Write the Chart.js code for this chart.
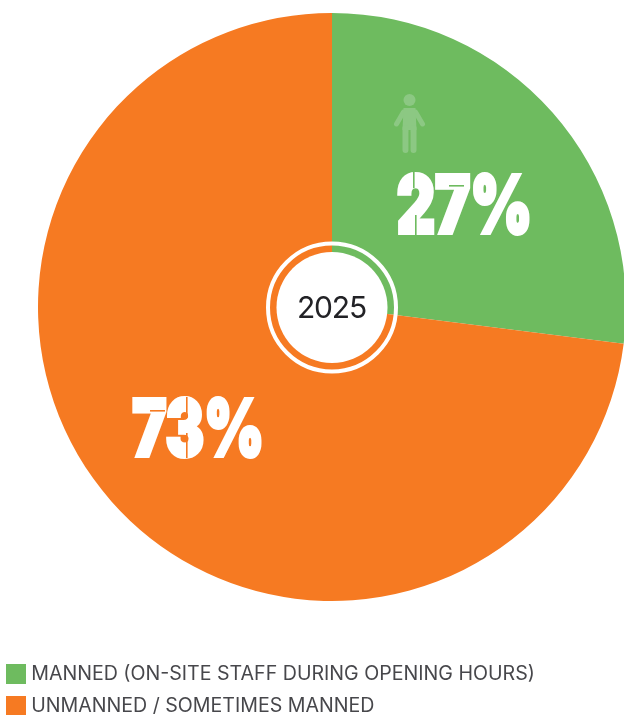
<!DOCTYPE html>
<html>
<head>
<meta charset="utf-8">
<title>Manned and unmanned sites, 2025</title>
<script src="https://cdn.jsdelivr.net/npm/chart.js@4"></script>
<style>
  html, body { margin: 0; padding: 0; background: #fff; overflow: hidden; }
  /* The pie runs past the right edge and the lower legend padding past the bottom edge. */
  canvas { display: block; position: absolute; left: -1px; top: -38px; }
</style>
</head>
<body>
<canvas id="chart" width="666" height="764"></canvas>
<script>
const categories = [
  'MANNED (ON-SITE STAFF DURING OPENING HOURS)',
  'UNMANNED / SOMETIMES MANNED'
];
const shares = [27, 73];
const sliceColors = ['#6EBB5F', '#F67A22'];
const centerYear = '2025';

// Small filled square used as the legend swatch.
function swatch(color) {
  const c = document.createElement('canvas');
  c.width = 20; c.height = 20;
  const g = c.getContext('2d');
  g.fillStyle = color;
  g.fillRect(0, 0, 20, 20);
  return c;
}

// Condensed heavy percentage text with stencil bridges cut through the glyphs.
function stencilText(ctx, text, cx, cy, w, h, bg, cuts) {
  const weight = 5;
  ctx.save();
  ctx.font = '900 100px Inter';
  ctx.textAlign = 'left';
  ctx.textBaseline = 'alphabetic';
  const m = ctx.measureText(text);
  const tw = m.actualBoundingBoxLeft + m.actualBoundingBoxRight + weight;
  const th = m.actualBoundingBoxAscent + m.actualBoundingBoxDescent + weight;
  ctx.translate(cx - w / 2, cy - h / 2);
  ctx.save();
  ctx.scale(w / tw, h / th);
  ctx.fillStyle = ctx.strokeStyle = '#fff';
  ctx.lineWidth = weight;
  ctx.lineJoin = 'miter';
  const ox = m.actualBoundingBoxLeft + weight / 2;
  const oy = m.actualBoundingBoxAscent + weight / 2;
  ctx.fillText(text, ox, oy);
  ctx.strokeText(text, ox, oy);
  ctx.restore();
  ctx.fillStyle = bg;
  cuts.forEach(([x, y, cw, ch]) => ctx.fillRect(x, y, cw, ch));
  ctx.restore();
}

const centerBadge = {
  id: 'centerBadge',
  afterDatasetsDraw(chart) {
    const arc = chart.getDatasetMeta(0).data[0];
    const ctx = chart.ctx, x = arc.x, y = arc.y + 0.5;
    ctx.save();
    ctx.strokeStyle = '#fff';
    ctx.lineWidth = 4;
    ctx.beginPath();
    ctx.arc(x, y, 64, 0, Math.PI * 2);
    ctx.stroke();
    ctx.fillStyle = '#fff';
    ctx.beginPath();
    ctx.arc(x, y, 55.5, 0, Math.PI * 2);
    ctx.fill();
    ctx.fillStyle = '#222226';
    ctx.font = '30px Inter';
    ctx.letterSpacing = '-1.2px';
    ctx.textAlign = 'center';
    ctx.textBaseline = 'middle';
    ctx.fillText(centerYear, x - 0.5, y + 1);
    ctx.restore();
  }
};

const sliceLabels = {
  id: 'sliceLabels',
  afterDatasetsDraw(chart) {
    const ctx = chart.ctx;
    const arc = chart.getDatasetMeta(0).data[0];
    const x = arc.x, y = arc.y;

    // Person pictogram above the manned share
    const px = x + 77.5, py = y - 207;
    ctx.save();
    ctx.fillStyle = ctx.strokeStyle = '#8CC883';
    ctx.beginPath();
    ctx.arc(px, py, 6, 0, Math.PI * 2);
    ctx.fill();
    ctx.lineCap = 'round';
    ctx.lineWidth = 5;
    ctx.beginPath();
    ctx.moveTo(px - 6, py + 12);
    ctx.lineTo(px - 13, py + 24);
    ctx.moveTo(px + 6, py + 12);
    ctx.lineTo(px + 13, py + 24);
    ctx.stroke();
    ctx.beginPath();
    ctx.moveTo(px - 6, py + 8);
    ctx.lineTo(px + 6, py + 8);
    ctx.lineTo(px + 7, py + 30);
    ctx.lineTo(px - 7, py + 30);
    ctx.closePath();
    ctx.fill();
    ctx.lineWidth = 6;
    ctx.beginPath();
    ctx.moveTo(px - 4, py + 28);
    ctx.lineTo(px - 4, py + 50);
    ctx.moveTo(px + 4, py + 28);
    ctx.lineTo(px + 4, py + 50);
    ctx.stroke();
    ctx.strokeStyle = '#6EBB5F';
    ctx.lineWidth = 1.2;
    ctx.lineCap = 'butt';
    ctx.beginPath();
    ctx.moveTo(px, py + 32);
    ctx.lineTo(px, py + 54);
    ctx.stroke();
    ctx.restore();

    stencilText(ctx, shares[0] + '%', x + 131.5, y - 103, 133, 64, sliceColors[0], [
      [16, 0, 1.6, 16], [18, 43, 1.6, 21], [52, 13, 15, 1.6]
    ]);
    stencilText(ctx, shares[1] + '%', x - 135, y + 120.5, 130, 63, sliceColors[1], [
      [18, 14, 15, 1.6], [54, 1, 1.6, 21], [54, 37, 1.6, 25]
    ]);
  }
};

new Chart(document.getElementById('chart'), {
  type: 'pie',
  data: {
    labels: categories,
    datasets: [{
      data: shares,
      backgroundColor: sliceColors,
      borderWidth: 0,
      radius: 294
    }]
  },
  plugins: [sliceLabels, centerBadge],
  options: {
    responsive: false,
    animation: false,
    events: [],
    plugins: {
      tooltip: { enabled: false },
      legend: {
        position: 'bottom',
        align: 'start',
        labels: {
          usePointStyle: true,
          boxWidth: 10,
          pointStyleWidth: 10,
          boxHeight: 20,
          padding: 12.4,
          color: '#47474B',
          font: { family: 'Inter', size: 19.6 },
          generateLabels() {
            return categories.map((text, i) => ({
              text,
              index: i,
              pointStyle: swatch(sliceColors[i]),
              fontColor: '#47474B',
              lineWidth: 0,
              strokeStyle: 'transparent',
              fillStyle: sliceColors[i]
            }));
          }
        }
      }
    }
  }
});
</script>
</body>
</html>
